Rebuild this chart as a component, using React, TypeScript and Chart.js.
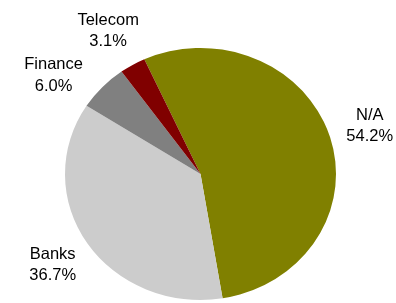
import React, { useEffect, useRef } from "react";
import { Chart, registerables } from "chart.js";

Chart.register(...registerables);

const categories = ["N/A", "Banks", "Finance", "Telecom"];
const shares = [54.2, 36.7, 6.0, 3.1];
const shareLabels = ["54.2%", "36.7%", "6.0%", "3.1%"];
const colors = ["#808000", "#CCCCCC", "#808080", "#800000"];

const SY = 0.93; // vertical squash of the pie
const FONT = "16.5px 'Liberation Sans', Arial, sans-serif";
const LINE_H = 21.5;
const GAP = 18;

const ellipsePlugin = {
  id: "ellipse",
  beforeDatasetsDraw(chart: any) {
    const arc = chart.getDatasetMeta(0).data[0];
    const ctx = chart.ctx;
    ctx.save();
    ctx.translate(arc.x, arc.y);
    ctx.scale(1, SY);
    ctx.translate(-arc.x, -arc.y);
  },
  afterDatasetsDraw(chart: any) {
    chart.ctx.restore();
  },
};

const labelPlugin = {
  id: "outerLabels",
  afterDraw(chart: any) {
    const ctx = chart.ctx;
    const meta = chart.getDatasetMeta(0);
    ctx.save();
    ctx.font = FONT;
    ctx.fillStyle = "#000000";
    ctx.textAlign = "center";
    ctx.textBaseline = "middle";
    const placed: { x0: number; x1: number; y0: number; y1: number }[] = [];
    const order = meta.data.map((_: any, i: number) => i).reverse();
    const overlaps = (b: any) =>
      placed.some((p) => !(b.x1 <= p.x0 || b.x0 >= p.x1 || b.y1 <= p.y0 || b.y0 >= p.y1));
    for (const i of order) {
      const arc = meta.data[i];
      const lines = [categories[i], shareLabels[i]];
      const hw = Math.max(...lines.map((l) => ctx.measureText(l).width)) / 2;
      const hh = LINE_H;
      const rx = arc.outerRadius;
      const ry = arc.outerRadius * SY;
      let a = (arc.startAngle + arc.endAngle) / 2;
      const box = (ang: number) => {
        const c = Math.cos(ang), s = Math.sin(ang);
        const cx = arc.x + (rx + GAP) * c + c * hw;
        const cy = arc.y + (ry + GAP) * s + s * hh;
        return { cx, cy, x0: cx - hw, x1: cx + hw, y0: cy - hh, y1: cy + hh };
      };
      let b = box(a);
      let steps = 0;
      while (overlaps(b) && steps < 90) {
        a -= Math.PI / 180;
        b = box(a);
        steps++;
      }
      placed.push(b);
      ctx.fillText(lines[0], b.cx, b.cy - LINE_H / 2);
      ctx.fillText(lines[1], b.cx, b.cy + LINE_H / 2);
    }
    ctx.restore();
  },
};

export default function App() {
  const ref = useRef<HTMLCanvasElement>(null);
  useEffect(() => {
    if (!ref.current) return;
    const chart = new Chart(ref.current, {
      type: "pie",
      data: {
        labels: categories,
        datasets: [
          {
            data: shares,
            backgroundColor: colors,
            borderWidth: 0,
          },
        ],
      },
      options: {
        animation: false,
        responsive: false,
        rotation: -24.5,
        layout: { padding: { top: 38.5, bottom: 10.5, left: 65, right: 60 } },
        plugins: {
          legend: { display: false },
          tooltip: { enabled: false },
        },
      },
      plugins: [ellipsePlugin, labelPlugin],
    });
    return () => chart.destroy();
  }, []);
  return (
    <div
      style={{
        position: "fixed",
        left: 0,
        top: 0,
        width: 396,
        height: 303,
        overflow: "hidden",
        background: "#ffffff",
      }}
    >
      <canvas ref={ref} width={396} height={320} style={{ display: "block" }} />
    </div>
  );
}
